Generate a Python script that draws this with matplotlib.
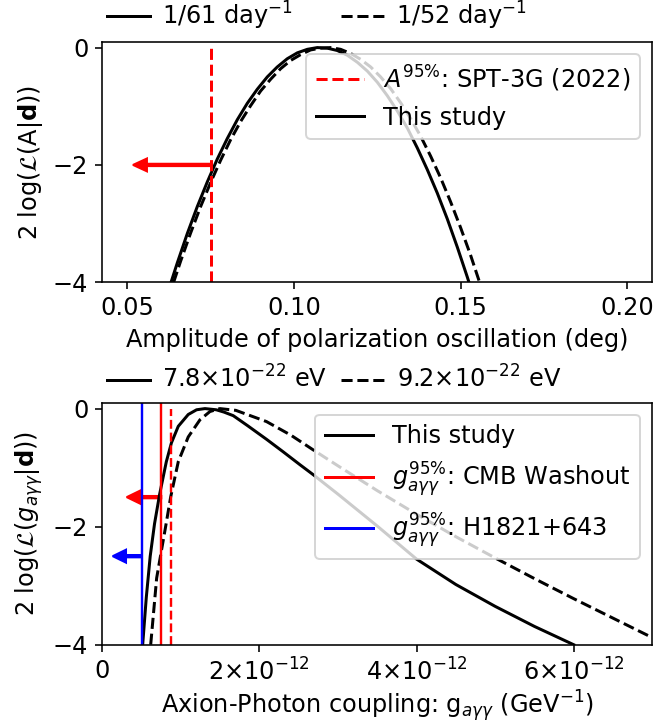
import matplotlib
matplotlib.use("Agg")
import matplotlib.pyplot as plt

# --- top panel: amplitude likelihood ---
amp_61 = [0.0629, 0.065, 0.068, 0.071, 0.074, 0.077, 0.080, 0.083, 0.086, 0.089, 0.092,
          0.095, 0.098, 0.101, 0.104, 0.107, 0.110, 0.113, 0.116, 0.119, 0.122, 0.125,
          0.128, 0.131, 0.134, 0.137, 0.140, 0.143, 0.146, 0.149, 0.152, 0.1525]
like_61 = [-4.04, -3.67, -3.17, -2.71, -2.29, -1.90, -1.55, -1.23, -0.95, -0.71, -0.50,
           -0.33, -0.19, -0.09, -0.03, 0.0, -0.01, -0.05, -0.13, -0.25, -0.40, -0.59,
           -0.82, -1.08, -1.37, -1.71, -2.08, -2.48, -2.92, -3.40, -3.91, -4.0]
amp_52 = [0.0639, 0.066, 0.069, 0.072, 0.075, 0.078, 0.081, 0.084, 0.087, 0.090, 0.093,
          0.096, 0.099, 0.102, 0.105, 0.108, 0.111, 0.114, 0.117, 0.120, 0.123, 0.126,
          0.129, 0.132, 0.135, 0.138, 0.141, 0.144, 0.147, 0.150, 0.153, 0.1558]
like_52 = [-4.0, -3.64, -3.16, -2.71, -2.30, -1.92, -1.57, -1.26, -0.99, -0.74, -0.54,
           -0.36, -0.22, -0.12, -0.04, -0.01, 0.0, -0.03, -0.10, -0.20, -0.33, -0.50,
           -0.70, -0.94, -1.21, -1.51, -1.85, -2.22, -2.63, -3.07, -3.54, -4.02]
spt_limit = 0.075
spt_arrow_tip = 0.0517

# --- bottom panel: coupling likelihood (units of 1e-12 GeV^-1) ---
g_78 = [0.514, 0.56, 0.61, 0.665, 0.73, 0.815, 0.88, 0.967, 1.094, 1.20, 1.307,
        1.45, 1.55, 1.667, 1.85, 2.09, 2.30, 2.515, 2.685, 3.0, 3.5, 4.0, 4.5, 5.0, 5.5, 6.0]
like_78 = [-4.0, -3.2, -2.5, -1.95, -1.45, -0.9, -0.58, -0.30, -0.10, -0.02, 0.0,
           -0.02, -0.06, -0.12, -0.29, -0.52, -0.73, -0.95, -1.12, -1.45, -1.99, -2.55,
           -2.98, -3.35, -3.69, -4.0]
g_92 = [0.616, 0.692, 0.806, 0.87, 0.967, 1.094, 1.243, 1.37, 1.497, 1.70, 2.09,
        2.40, 2.685, 3.0, 3.5, 4.0, 4.5, 5.0, 5.5, 6.0, 6.5, 7.0]
like_92 = [-4.0, -2.87, -2.0, -1.5, -0.9, -0.48, -0.19, -0.05, 0.0, -0.03, -0.22,
           -0.45, -0.70, -0.97, -1.39, -1.79, -2.17, -2.53, -2.88, -3.22, -3.55, -3.88]
washout_78 = 0.751
washout_92 = 0.878
h1821 = 0.501
washout_tip = 0.31
h1821_tip = 0.132

scale = 1e-12

plt.rcParams['font.size'] = 12
fig = plt.figure(figsize=(654 / 144, 724 / 144), dpi=144)
ax1 = fig.add_axes([0.1564, 0.6101, 0.8410, 0.3323])
ax2 = fig.add_axes([0.1564, 0.1095, 0.8410, 0.3343])

# top panel
l61, = ax1.plot(amp_61, like_61, 'k-', lw=1.5, label='1/61 day$^{-1}$')
l52, = ax1.plot(amp_52, like_52, 'k--', lw=1.5, label='1/52 day$^{-1}$')
ax1.vlines(spt_limit, -4, 0, colors='red', linestyles='--', lw=1.5)
ax1.arrow(spt_limit, -2, spt_arrow_tip - spt_limit, 0, width=0.04, head_width=0.22,
          head_length=0.0042, length_includes_head=True, color='red')
ax1.set_xlim(0.0425, 0.2075)
ax1.set_ylim(-4, 0.1)
ax1.set_xticks([0.05, 0.10, 0.15, 0.20])
ax1.set_yticks([-4, -2, 0])
ax1.set_xlabel('Amplitude of polarization oscillation (deg)')
ax1.set_ylabel(r'2 log($\mathcal{L}$(A|$\mathbf{d}$))')
top_leg = ax1.legend(handles=[l61, l52], loc='lower left', bbox_to_anchor=(-0.0095, 1.0),
                     ncol=2, frameon=False, borderaxespad=0, handlelength=1.8,
                     handletextpad=0.5, columnspacing=2.0)
ax1.add_artist(top_leg)
spt_handle = plt.Line2D([], [], color='red', ls='--', lw=1.5)
study_handle = plt.Line2D([], [], color='k', lw=1.5)
ax1.legend([spt_handle, study_handle], [r'$A^{95\%}$: SPT-3G (2022)', 'This study'],
           loc='upper right')

# bottom panel
g78 = [v * scale for v in g_78]
g92 = [v * scale for v in g_92]
m78, = ax2.plot(g78, like_78, 'k-', lw=1.5, label=r'$7.8{\times}10^{-22}$ eV')
m92, = ax2.plot(g92, like_92, 'k--', lw=1.5, label=r'$9.2{\times}10^{-22}$ eV')
ax2.axvline(h1821 * scale, color='blue', lw=1.2)
ax2.axvline(washout_78 * scale, color='red', lw=1.2)
ax2.vlines(washout_92 * scale, -4, 0, colors='red', linestyles='--', lw=1.2)
ax2.arrow(washout_78 * scale, -1.5, (washout_tip - washout_78) * scale, 0, width=0.04,
          head_width=0.22, head_length=0.17 * scale, length_includes_head=True, color='red')
ax2.arrow(h1821 * scale, -2.5, (h1821_tip - h1821) * scale, 0, width=0.04,
          head_width=0.22, head_length=0.17 * scale, length_includes_head=True, color='blue')
ax2.set_xlim(0, 7 * scale)
ax2.set_ylim(-4, 0.1)
ax2.set_xticks([0, 2 * scale, 4 * scale, 6 * scale])
ax2.set_xticklabels(['0', r'$2{\times}10^{-12}$', r'$4{\times}10^{-12}$', r'$6{\times}10^{-12}$'])
ax2.set_yticks([-4, -2, 0])
ax2.set_xlabel(r'Axion-Photon coupling: g$_{a\gamma\gamma}$ (GeV$^{-1}$)', labelpad=1)
ax2.set_ylabel(r'2 log($\mathcal{L}(g_{a\gamma\gamma}|\mathbf{d})$)')
mass_leg = ax2.legend(handles=[m78, m92], loc='lower left', bbox_to_anchor=(-0.0095, 1.0),
                      ncol=2, frameon=False, borderaxespad=0, handlelength=1.8,
                      handletextpad=0.5, columnspacing=0.6)
ax2.add_artist(mass_leg)
ax2.legend([plt.Line2D([], [], color='k', lw=1.5),
            plt.Line2D([], [], color='red', lw=1.5),
            plt.Line2D([], [], color='blue', lw=1.5)],
           ['This study', r'$g_{a\gamma\gamma}^{95\%}$: CMB Washout',
            r'$g_{a\gamma\gamma}^{95\%}$: H1821+643'],
           loc='upper right')

fig.savefig('out.png', dpi=144)
